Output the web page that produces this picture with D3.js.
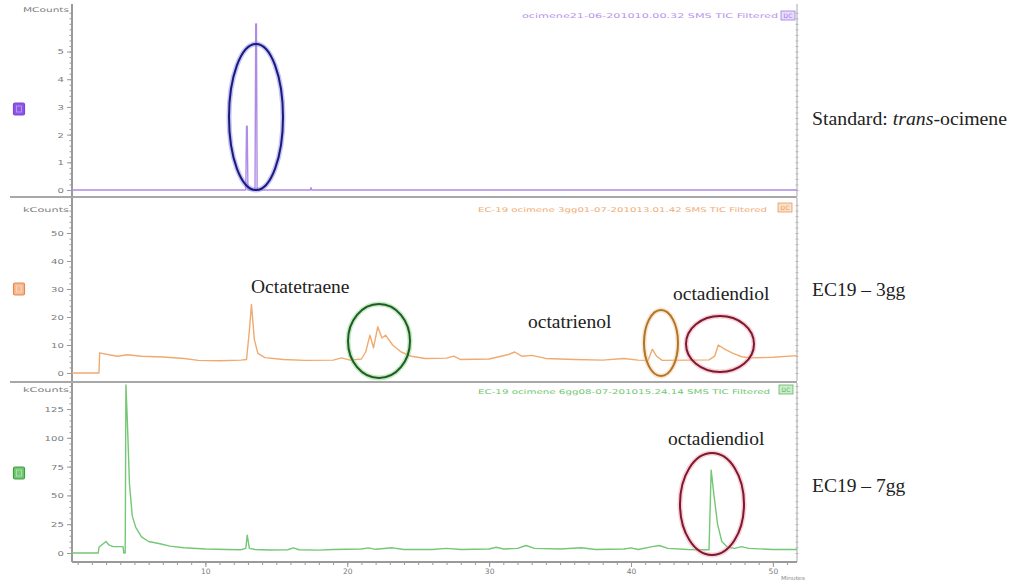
<!DOCTYPE html>
<html><head><meta charset="utf-8">
<script src="https://cdn.jsdelivr.net/npm/d3@7"></script>
<style>body{margin:0;background:#fff}svg{display:block}</style>
</head><body><svg id="c" width="1013" height="581"></svg>
<script>
// ---------- DATA ----------
const xTickValues = [10, 20, 30, 40, 50];
const xMinorStep = 1;

const stdTicks = [0, 1, 2, 3, 4, 5];
const gg3Ticks = [0, 10, 20, 30, 40, 50];
const gg7Ticks = [0, 25, 50, 75, 100, 125];

const stdTime  = [0.6, 12.85, 12.9, 12.95, 13.0, 13.5, 13.55, 13.6, 13.65, 17.4, 17.45, 17.5, 51.7];
const stdValue = [0,   0,     2.3,  2.3,   0,    0,    6.0,   6.0,  0,     0,    0.08,  0,    0];

const gg3Time  = [0.6,2.5,2.55,3.2,3.8,4.5,5.5,7,8.5,9.5,11,12.5,12.9,13.1,13.25,13.45,13.7,14.2,15.5,17,19,19.6,20.2,21,21.3,21.6,21.85,22.15,22.45,22.7,23.2,23.8,24.5,25.5,27,27.5,28,30,31.3,31.8,32.3,33,34,36,38,39.5,40.5,41.2,41.5,41.8,42.2,44,45.5,45.9,46.15,46.6,47.2,47.8,48.5,50,51.7];
const gg3Value = [0,  0,  7.2, 6.5,6,  6.5,6,  5.7,5.2,4.5,4.4,4.6,4.8, 15,  24.5, 12,   7,   5.5, 4.8, 4.5,4.6,5.4, 4.6, 5,  7.5, 13.5, 9,    16.5, 12.5, 13.5,10,  7.5, 6,   5.2, 5.3,6,   4.8,5,  6.5, 7.5, 6,   6.3,5.2,4.8,4.6,5.2, 4.6, 4.5, 8.5, 6,   4.5, 4.6,4.7, 6,   10,   8.5, 7,   5.8, 5.4, 5.6,6.2];

const gg7Time  = [0.6,2.45,2.5,2.8,3.0,3.2,3.5,4.2,4.25,4.35,4.4,4.5,4.65,4.85,5.1,5.5,6.0,6.8,7.5,8.5,10,11.5,12.5,12.85,12.95,13.1,13.5,14.5,15.8,16.2,16.6,18,19,21,21.5,22,23.2,24,26,27,28,30,30.5,31,32,32.6,33.2,35,36.5,37.5,39.5,40,40.5,41.5,42,42.6,44,45.5,45.65,45.85,46.1,46.4,46.8,47.3,47.8,48.3,50,51.7];
const gg7Value = [0,  0,   5,  8,  10, 7,  5.5,5.5,0,   0,   146,115,60,  32,  22, 14, 10, 8,  6,  4.5,3.5,3,  2.8, 4,    15.5, 4,   3,   2.6, 2.8, 4.5, 2.8, 2.5,3, 3.5,4.5, 3.2,4.5, 3, 3, 4, 3, 3.5,5,  3.5,4, 6.5, 4,   3.5,4.5, 3,   3.5, 4.5,3,  5.5, 6.5,4,  3, 2.8, 72,   50,   25,  10,  5,   4,   5.5, 4,   3, 3];

const headers = [
  "ocimene21-06-201010.00.32 SMS TIC Filtered",
  "EC-19 ocimene 3gg01-07-201013.01.42 SMS TIC Filtered",
  "EC-19 ocimene 6gg08-07-201015.24.14 SMS TIC Filtered"
];
const unitLabels = ["MCounts", "kCounts", "kCounts"];
const sideLabels = ["EC19 \u2013 3gg", "EC19 \u2013 7gg"];
const annotations = ["Octatetraene", "octatrienol", "octadiendiol", "octadiendiol"];

// ---------- LAYOUT ----------
const svg = d3.select("#c");
const X0 = 72, X1 = 797;
const x = d3.scaleLinear().domain([0.6, 51.7]).range([X0, X1]);

const panels = [
  {time: stdTime, value: stdValue, ticks: stdTicks, minor: 0.2, dom: [0, 6.5], rng: [190, 10], top: 4, bottom: 197,
   color: "#b08be6", header: headers[0], hx0: 522, hx1: 778, hy: 17.5, unit: unitLabels[0], uy: 12,
   sq: 103, sqFill: "#8c57e6", sqStroke: "#7a46d8", htxt: "#b894ea", box: {x: 781, y: 11, fill: "#e6dbfa", stroke: "#a27be6"}},
  {time: gg3Time, value: gg3Value, ticks: gg3Ticks, minor: 2, dom: [0, 60], rng: [373, 205], top: 198, bottom: 381,
   color: "#f0aa70", header: headers[1], hx0: 478, hx1: 767, hy: 212, unit: unitLabels[1], uy: 212,
   sq: 283, sqFill: "#f6b990", sqStroke: "#e48a4c", htxt: "#f2ac74", box: {x: 778, y: 203, fill: "#fbe0c8", stroke: "#e89a5c"}},
  {time: gg7Time, value: gg7Value, ticks: gg7Ticks, minor: 5, dom: [0, 145], rng: [553, 386], top: 383, bottom: 562,
   color: "#74c774", header: headers[2], hx0: 478, hx1: 770, hy: 394, unit: unitLabels[2], uy: 392,
   sq: 467, sqFill: "#74c874", sqStroke: "#3f9f3f", htxt: "#70c870", box: {x: 779, y: 385, fill: "#cdeccd", stroke: "#5cb85c"}}
];

// separators
[197, 382].forEach(yy => {
  svg.append("line").attr("x1", 10).attr("x2", X1).attr("y1", yy).attr("y2", yy)
    .attr("stroke", "#a8a8a8").attr("stroke-width", 2);
});

panels.forEach(p => {
  const y = d3.scaleLinear().domain(p.dom).range(p.rng);
  const g = svg.append("g");

  // left axis line
  g.append("line").attr("x1", X0).attr("x2", X0).attr("y1", p.top).attr("y2", p.bottom)
    .attr("stroke", "#9a9a9a").attr("stroke-width", 2);
  // minor ticks
  const minorVals = d3.range(0, p.dom[1] + 1e-9, p.minor);
  const mg = g.append("g").attr("transform", `translate(${X0},0)`)
    .call(d3.axisLeft(y).tickValues(minorVals).tickSize(2.5).tickFormat(""));
  mg.select(".domain").remove();
  mg.selectAll("line").attr("stroke", "#9a9a9a");
  // major ticks
  const ag = g.append("g").attr("transform", `translate(${X0},0)`)
    .call(d3.axisLeft(y).tickValues(p.ticks).tickSize(5).tickPadding(1).tickFormat(d3.format("d")));
  ag.select(".domain").remove();
  ag.selectAll("line").attr("stroke", "#9a9a9a");
  ag.selectAll("text").attr("font-family", "DejaVu Sans").attr("font-size", 7.5)
    .attr("fill", "#7a7a7a").attr("transform", "scale(1.35,1)");

  // right axis
  g.append("line").attr("x1", X1).attr("x2", X1).attr("y1", p.top).attr("y2", p.bottom)
    .attr("stroke", "#c4c4c4").attr("stroke-width", 1.5);
  const rg = g.append("g").attr("transform", `translate(${X1 - 1.5},0)`)
    .call(d3.axisRight(y).tickValues(minorVals).tickSize(3).tickFormat(""));
  rg.select(".domain").remove();
  rg.selectAll("line").attr("stroke", "#b8b8b8");

  // unit label
  g.append("text").attr("x", 69).attr("y", p.uy).attr("text-anchor", "end")
    .attr("font-family", "DejaVu Sans").attr("font-size", 6.5).attr("fill", "#808080")
    .attr("textLength", 46).attr("lengthAdjust", "spacingAndGlyphs").text(p.unit);

  // colored square
  g.append("rect").attr("x", 13.5).attr("y", p.sq).attr("width", 11).attr("height", 12)
    .attr("rx", 1.5).attr("fill", p.sqFill).attr("stroke", p.sqStroke).attr("stroke-width", 1.2);
  g.append("rect").attr("x", 16.5).attr("y", p.sq + 3).attr("width", 5).attr("height", 6)
    .attr("fill", "none").attr("stroke", "#ffffff").attr("stroke-opacity", 0.45).attr("stroke-width", 0.8);

  // header
  g.append("text").attr("x", p.hx0).attr("y", p.hy)
    .attr("font-family", "DejaVu Sans").attr("font-size", 6.5).attr("fill", p.htxt)
    .attr("textLength", p.hx1 - p.hx0).attr("lengthAdjust", "spacingAndGlyphs").text(p.header);
  g.append("rect").attr("x", p.box.x).attr("y", p.box.y).attr("width", 14).attr("height", 9)
    .attr("fill", p.box.fill).attr("stroke", p.box.stroke).attr("stroke-width", 0.8);
  g.append("text").attr("x", p.box.x + 7).attr("y", p.box.y + 7).attr("text-anchor", "middle")
    .attr("font-family", "DejaVu Sans").attr("font-size", 6).attr("fill", p.box.stroke).text("DC");

  // trace
  const line = d3.line().x(d => x(d[0])).y(d => y(d[1]));
  g.append("path").datum(d3.zip(p.time, p.value)).attr("d", line)
    .attr("fill", "none").attr("stroke", p.color).attr("stroke-width", 1.4).attr("stroke-linejoin", "round");
  p.y = y;
});

// x axis
svg.append("line").attr("x1", X0).attr("x2", X1).attr("y1", 562).attr("y2", 562)
  .attr("stroke", "#9a9a9a").attr("stroke-width", 2);
const xm = svg.append("g").attr("transform", "translate(0,562)")
  .call(d3.axisBottom(x).tickValues(d3.range(1, 52, xMinorStep)).tickSize(3).tickFormat(""));
xm.select(".domain").remove();
xm.selectAll("line").attr("stroke", "#9a9a9a");
const xa = svg.append("g").attr("transform", "translate(0,562)")
  .call(d3.axisBottom(x).tickValues(xTickValues).tickSize(5).tickPadding(2));
xa.select(".domain").remove();
xa.selectAll("line").attr("stroke", "#9a9a9a");
xa.selectAll("text").attr("font-family", "DejaVu Sans").attr("font-size", 7.5).attr("fill", "#7a7a7a");
svg.append("text").attr("x", 781).attr("y", 580).attr("font-family", "DejaVu Sans").attr("font-size", 5.5)
  .attr("fill", "#8a8a8a").attr("textLength", 24).attr("lengthAdjust", "spacingAndGlyphs").text("Minutes");

// ellipses
const ellipses = [
  {cx: 256, cy: 117, rx: 27, ry: 73, c: "#1c1a78", glow: "#7d7df0"},
  {cx: 379, cy: 341, rx: 31, ry: 37, c: "#1f5c22", glow: "#7fd07f"},
  {cx: 661, cy: 343, rx: 17, ry: 33, c: "#b0742a", glow: "#f5c890"},
  {cx: 720, cy: 344, rx: 34, ry: 28, c: "#7c1830", glow: "#f09aa8"},
  {cx: 712, cy: 504, rx: 32, ry: 51, c: "#7c1830", glow: "#f09aa8"}
];
ellipses.forEach(e => {
  svg.append("ellipse").attr("cx", e.cx).attr("cy", e.cy).attr("rx", e.rx).attr("ry", e.ry)
    .attr("fill", "none").attr("stroke", e.glow).attr("stroke-opacity", 0.45).attr("stroke-width", 5);
  svg.append("ellipse").attr("cx", e.cx).attr("cy", e.cy).attr("rx", e.rx).attr("ry", e.ry)
    .attr("fill", "none").attr("stroke", e.c).attr("stroke-width", 2);
});

// annotations
const serif = "Liberation Serif, Times New Roman, serif";
const ann = [
  {t: annotations[0], x: 251, y: 293},
  {t: annotations[1], x: 528, y: 328},
  {t: annotations[2], x: 673, y: 300},
  {t: annotations[3], x: 668, y: 445}
];
ann.forEach(a => svg.append("text").attr("x", a.x).attr("y", a.y).attr("font-family", serif)
  .attr("font-size", 19.5).attr("fill", "#222").text(a.t));

const st = svg.append("text").attr("x", 812).attr("y", 125).attr("font-family", serif)
  .attr("font-size", 19.8).attr("fill", "#222");
st.append("tspan").text("Standard: ");
st.append("tspan").attr("font-style", "italic").text("trans");
st.append("tspan").text("-ocimene");
svg.append("text").attr("x", 812).attr("y", 296).attr("font-family", serif)
  .attr("font-size", 19.5).attr("fill", "#222").text(sideLabels[0]);
svg.append("text").attr("x", 812).attr("y", 492).attr("font-family", serif)
  .attr("font-size", 19.5).attr("fill", "#222").text(sideLabels[1]);
</script>
</body></html>
